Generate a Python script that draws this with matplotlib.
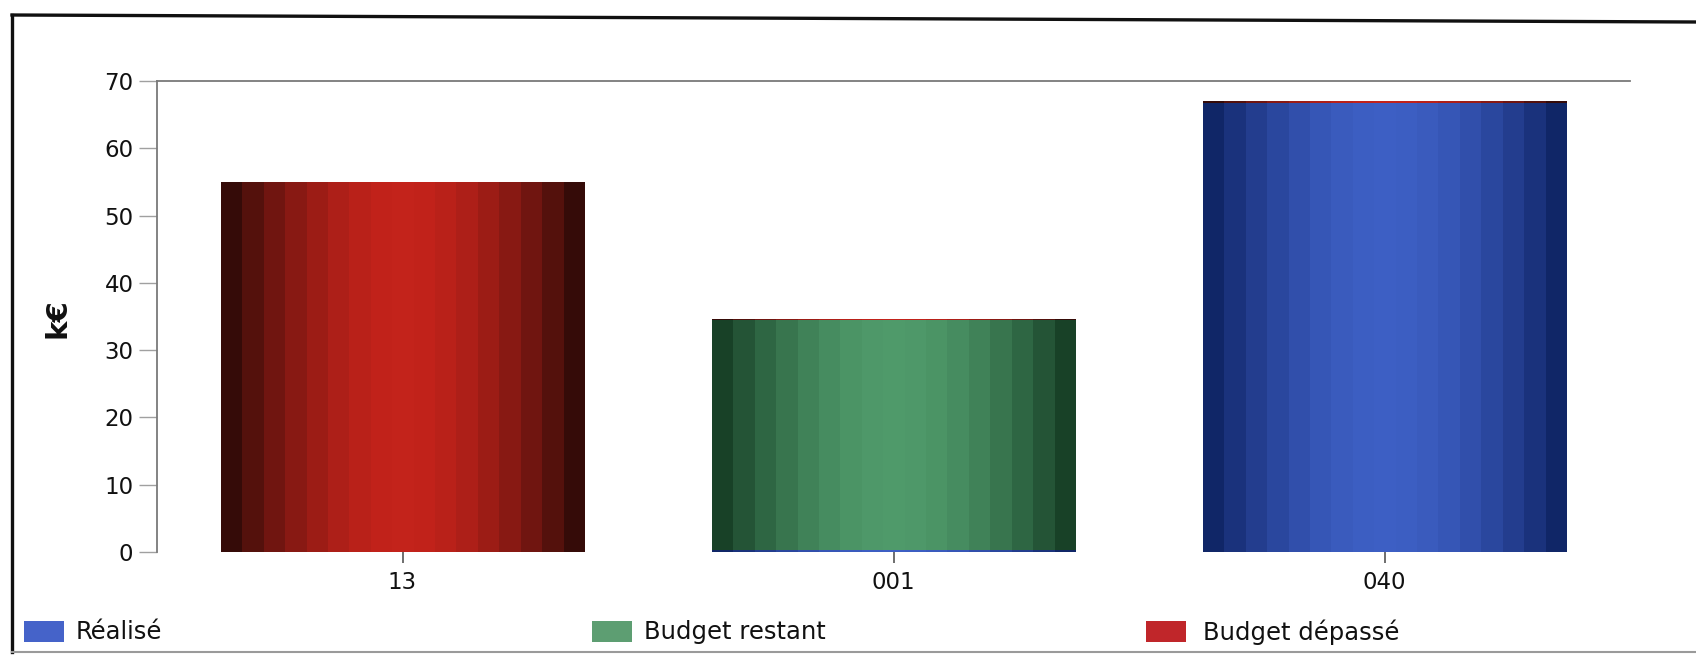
import numpy as np
import matplotlib
matplotlib.use("Agg")
import matplotlib.pyplot as plt
from matplotlib.colors import LinearSegmentedColormap
from matplotlib.lines import Line2D
from matplotlib.patches import Rectangle

plt.rcParams['font.family'] = ['DejaVu Sans']

# Data (k€)
categories = ["13", "001", "040"]
realise = [0.0, 0.25, 66.8]
budget_restant = [0.0, 34.3, 0.0]
budget_depasse = [55.0, 0.15, 0.2]

series_names = ["Réalisé", "Budget restant", "Budget dépassé"]
legend_colors = ["#4563c9", "#5d9e72", "#c0262a"]
# edge (dark) and centre (light) colours of the shaded bars
shade = {
    "Réalisé": ("#0b1f5c", "#3d5fc4"),
    "Budget restant": ("#11361f", "#4f9a6a"),
    "Budget dépassé": ("#230906", "#c3231b"),
}

W, H = 1696, 657
fig = plt.figure(figsize=(W / 100, H / 100), dpi=100)
fig.patch.set_facecolor("white")

ax = fig.add_axes([157 / W, 1 - 552 / H, (1630 - 157) / W, (552 - 81) / H])

x = np.arange(len(categories))
width = 0.74

n_stripes = 17
t = (np.arange(n_stripes) + 0.5) / n_stripes
profile = np.sin(np.pi * t) ** 0.9


def shaded_bars(values, bottoms, name):
    dark, light = shade[name]
    cmap = LinearSegmentedColormap.from_list(name, [dark, light])
    bars = ax.bar(x, values, width, bottom=bottoms, color=light,
                  edgecolor="none", zorder=2)
    for rect in bars:
        if rect.get_height() <= 0:
            continue
        x0, y0 = rect.get_x(), rect.get_y()
        x1, y1 = x0 + rect.get_width(), y0 + rect.get_height()
        img = ax.imshow(profile[np.newaxis, :], cmap=cmap, vmin=0, vmax=1,
                        extent=[x0, x1, y0, y1], aspect="auto",
                        interpolation="nearest", zorder=3)
        img.set_clip_path(rect)
    return bars


bottom = np.zeros(len(categories))
for name, vals in zip(series_names, [realise, budget_restant, budget_depasse]):
    shaded_bars(vals, bottom, name)
    bottom = bottom + np.array(vals)

ax.set_aspect("auto")
ax.set_xlim(-0.5, 2.5)
ax.set_ylim(0, 70)

# axes styling
for side in ["right", "bottom"]:
    ax.spines[side].set_visible(False)
for side in ["left", "top"]:
    ax.spines[side].set_color("#7a7a7a")
    ax.spines[side].set_linewidth(1.3)

ax.set_yticks(np.arange(0, 71, 10))
ax.set_xticks(x)
ax.set_xticklabels(categories)
ax.tick_params(axis="y", length=13, width=1, color="#a0a0a0", pad=4,
               labelsize=16.5, labelcolor="#111111")
ax.tick_params(axis="x", length=8, width=1.2, color="#555555", pad=6,
               labelsize=16.5, labelcolor="#111111")

fig.text(57 / W, 1 - 318 / H, "k€", rotation=90, fontsize=21,
         fontweight="bold", ha="center", va="center", color="#111111")

# legend row along the bottom
legend_items = [(24, 76), (592, 644), (1146, 1203)]
for (sx, tx), name, col in zip(legend_items, series_names, legend_colors):
    fig.patches.append(Rectangle((sx / W, 1 - 642 / H), 40 / W, 21 / H,
                                 transform=fig.transFigure, facecolor=col,
                                 edgecolor="none"))
    fig.text(tx / W, 1 - 632 / H, name, fontsize=17.5, ha="left",
             va="center", color="#111111")

# outer frame
fig.add_artist(Line2D([12 / W, 12 / W], [1 - 15 / H, 1 - 652 / H],
                      transform=fig.transFigure, color="#111111", lw=2.4))
fig.add_artist(Line2D([12 / W, 1], [1 - 15 / H, 1 - 22 / H],
                      transform=fig.transFigure, color="#111111", lw=2.4))
fig.add_artist(Line2D([12 / W, 1], [1 - 652 / H, 1 - 652 / H],
                      transform=fig.transFigure, color="#9a9a9a", lw=1.5))

fig.savefig("out.png", dpi=100)
